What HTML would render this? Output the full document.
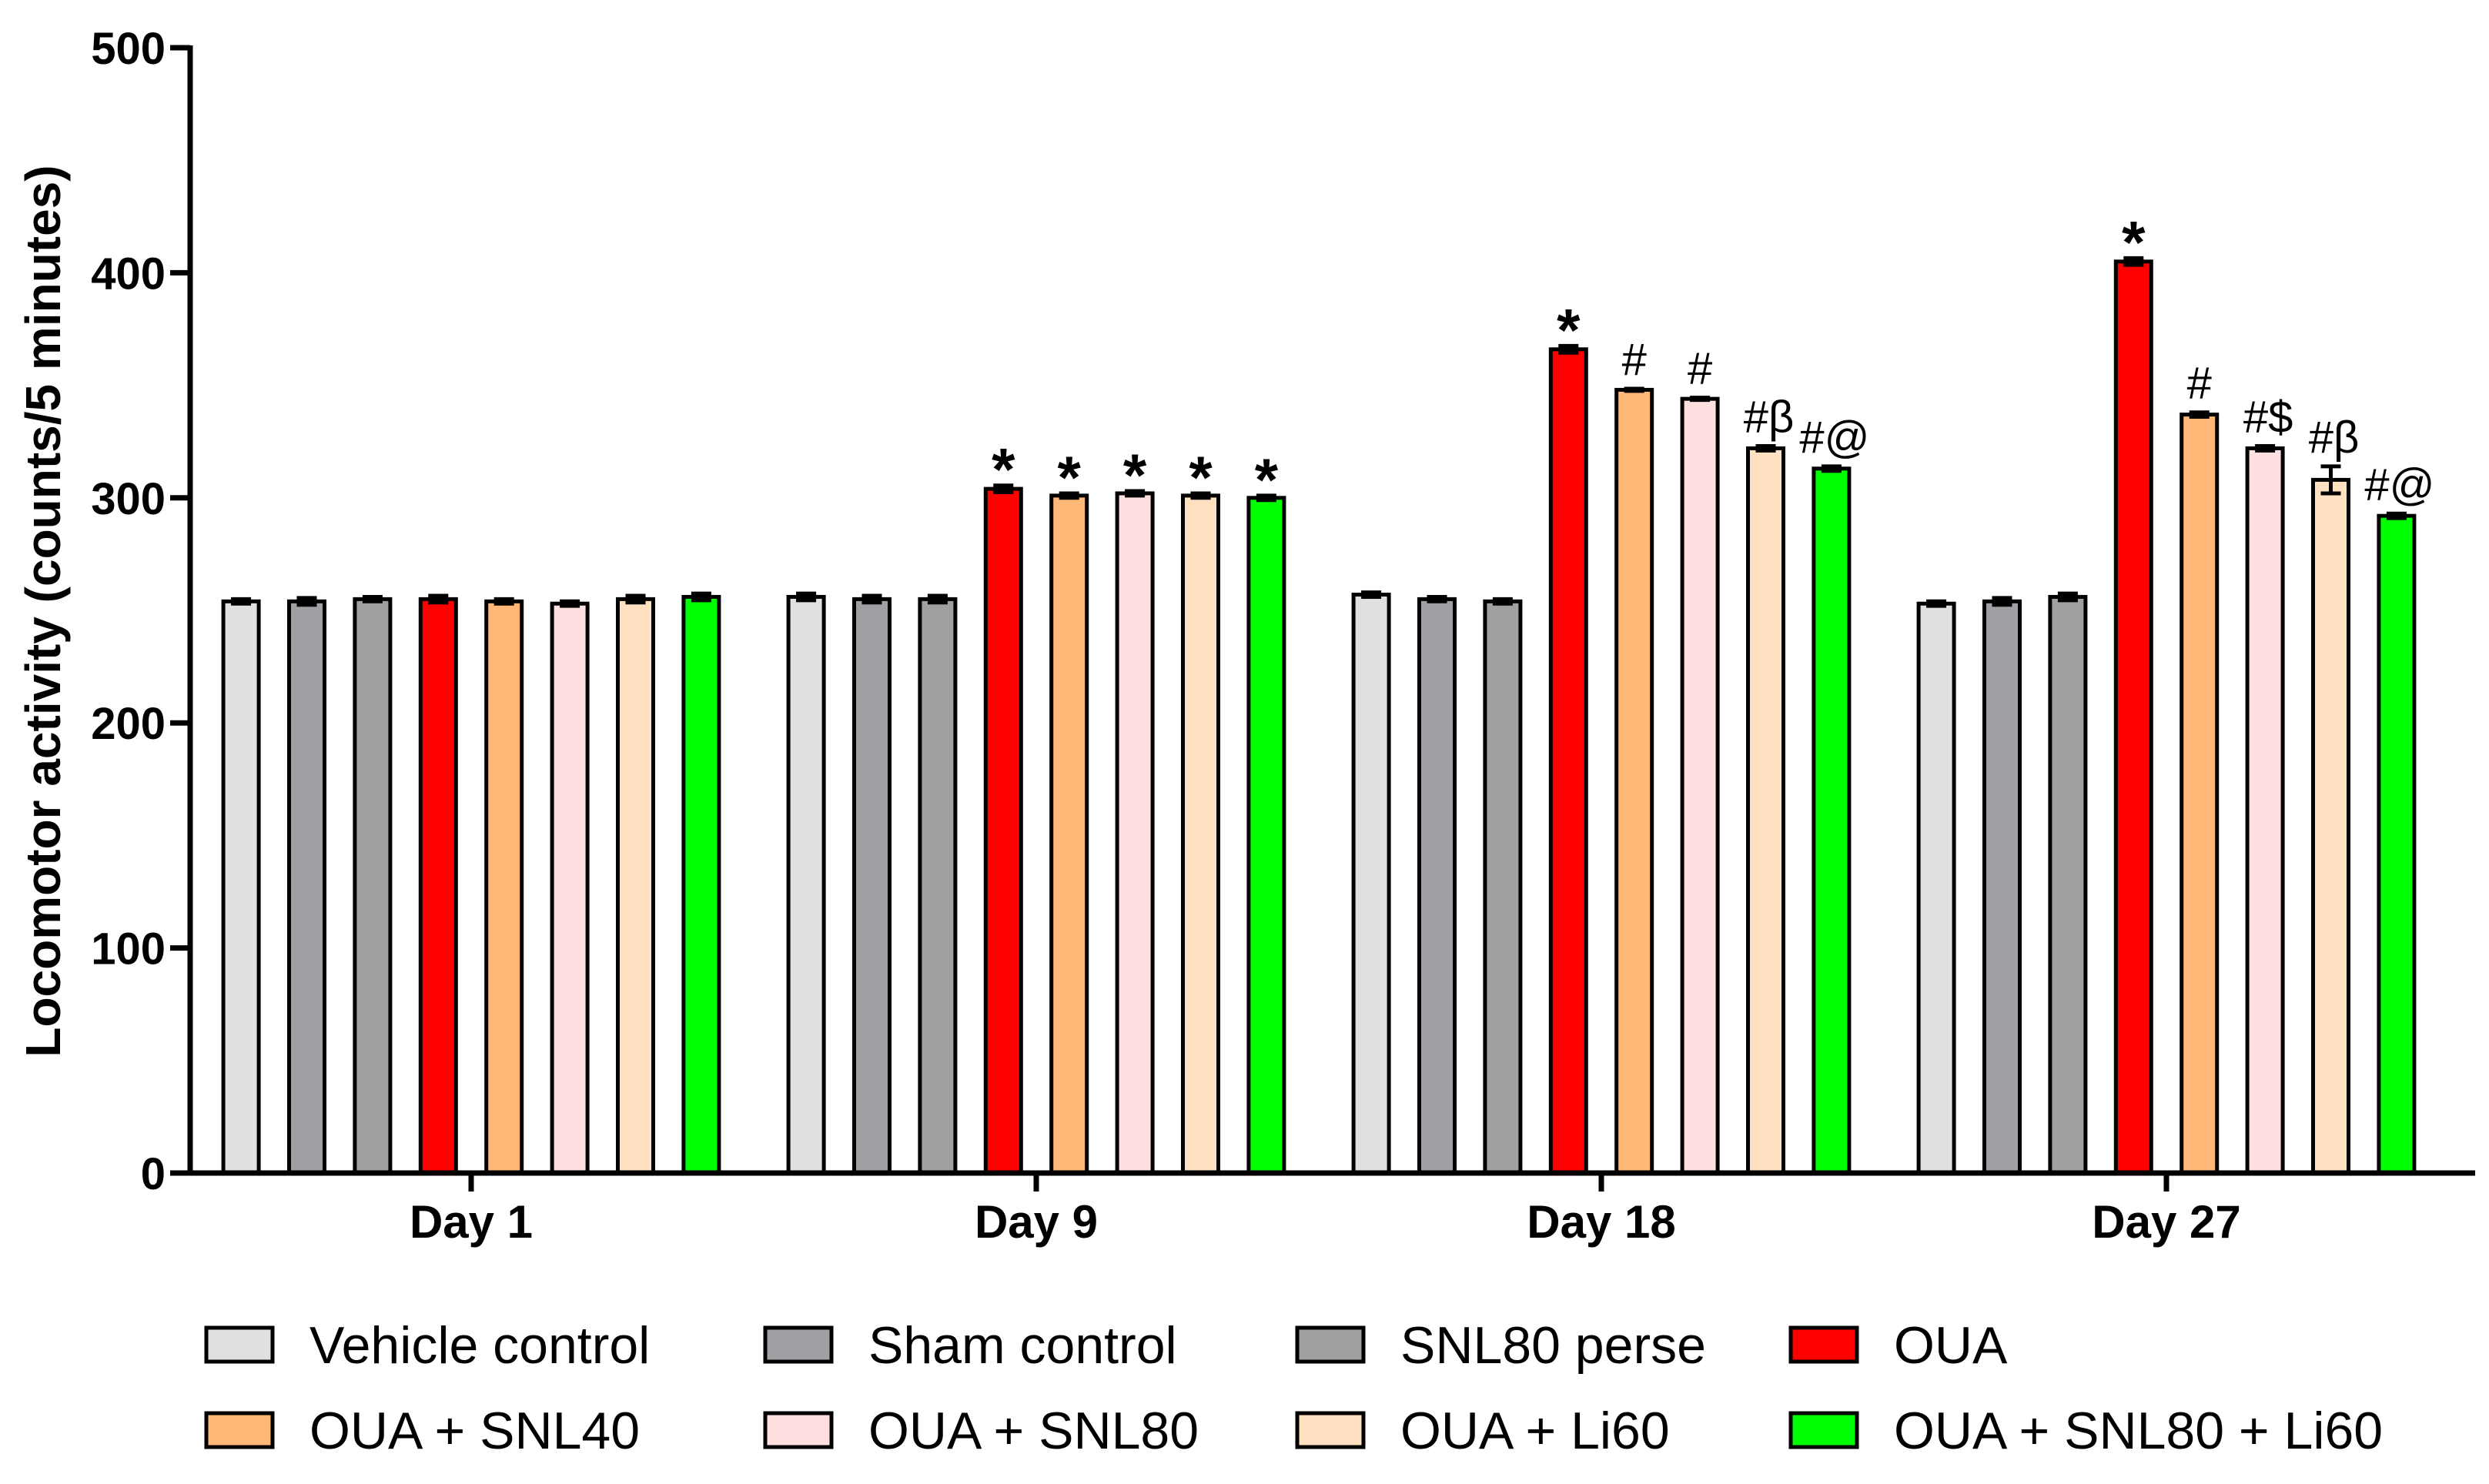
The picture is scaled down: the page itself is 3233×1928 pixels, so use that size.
<!DOCTYPE html>
<html><head><meta charset="utf-8"><style>
html,body{margin:0;padding:0;background:#fff}
svg{display:block;font-family:"Liberation Sans",Arial,sans-serif}
</style></head><body>
<svg id="chart" width="3233" height="1928" viewBox="0 0 3233 1928" xmlns="http://www.w3.org/2000/svg">
<text transform="translate(78,794) rotate(-90)" text-anchor="middle" font-size="64" font-weight="bold">Locomotor activity (counts/5 minutes)</text>
<g id="plot"></g>
<g id="legend"></g>
</svg>
<script>
const days = ["Day 1","Day 9","Day 18","Day 27"];
const groups = ["Vehicle control","Sham control","SNL80 perse","OUA","OUA + SNL40","OUA + SNL80","OUA + Li60","OUA + SNL80 + Li60"];
const colors = ["#e0e0e0","#a0a0a4","#a0a0a0","#ff0000","#ffb878","#ffe0e0","#ffe0c0","#00ff00"];
const day1 = [254,254,255,255,254,253,255,256];
const day9 = [256,255,255,304,301,302,301,300];
const day18 = [257,255,254,366,348,344,322,313];
const day27 = [253,254,256,405,337,322,308,292];
const errs1 = [1,1.5,1,1.5,1,1,1.5,1.5];
const errs9 = [1.5,1.5,1.5,1.5,1,1,1,1];
const errs18 = [1,1,1,1.5,0.5,0.5,1,1];
const errs27 = [1,1.5,1.5,1.5,1,1,6,1];
const ann1 = ["","","","","","","",""];
const ann9 = ["","","","*","*","*","*","*"];
const ann18 = ["","","","*","#","#","#β","#@"];
const ann27 = ["","","","*","#","#$","#β","#@"];
const yTicks = [0,100,200,300,400,500];

const series = [day1,day9,day18,day27];
const errs = [errs1,errs9,errs18,errs27];
const anns = [ann1,ann9,ann18,ann27];
const NS="http://www.w3.org/2000/svg";
const plot=document.getElementById('plot');
const Y0=1524, YT=62, AX=247;
function y(v){return Y0-(v/500)*(Y0-YT);}
function gx(i){return 612+i*734;}
function bx(i,j){return gx(i)+(j-3.5)*85.4;}
function mk(tag,attrs,parent){const e=document.createElementNS(NS,tag);for(const k in attrs)e.setAttribute(k,attrs[k]);(parent||plot).appendChild(e);return e;}

series.forEach((vals,i)=>{
  vals.forEach((v,j)=>{
    const cx=bx(i,j);
    const r=mk('rect',{x:cx-23,y:y(v),width:46,height:Y0-y(v),fill:colors[j],stroke:'#000','stroke-width':5});
    
    
    const e=errs[i][j];
    const eb=mk('path',{d:`M${cx},${y(v+e)}V${y(v-e)}M${cx-13},${y(v+e)}H${cx+13}M${cx-13},${y(v-e)}H${cx+13}`,stroke:'#000','stroke-width':5,fill:'none'});
    
    
    const a=anns[i][j];
    if(a){
      const t=mk('text',{x:cx+(a.length>1?4:0),y:y(v+e)-(a==='*'?-6:18),'text-anchor':'middle','font-size':a==='*'?78:58,'font-weight':a==='*'?'bold':'normal'});
      t.textContent=a;
      
      
    }
  });
  const tk=mk('line',{x1:gx(i),x2:gx(i),y1:Y0,y2:Y0+24,stroke:'#000','stroke-width':7});
  
  
  const tl=mk('text',{x:gx(i),y:1608,'text-anchor':'middle','font-size':60,'font-weight':'bold'});
  tl.textContent=days[i];
  
  
});
const yax=mk('line',{x1:AX,x2:AX,y1:YT-3,y2:Y0+3,stroke:'#000','stroke-width':7});


const xax=mk('line',{x1:222,x2:3215,y1:Y0,y2:Y0,stroke:'#000','stroke-width':7});


yTicks.forEach(v=>{
  const t=mk('line',{x1:AX-26,x2:AX,y1:y(v),y2:y(v),stroke:'#000','stroke-width':7});
  
  
  const l=mk('text',{x:AX-32,y:y(v)+21,'text-anchor':'end','font-size':58,'font-weight':'bold'});
  l.textContent=v;
  
  
});
const leg=document.getElementById('legend');
const colX=[268,994,1685,2326];
const rowY=[1747,1858];
groups.forEach((g,k)=>{
  const c=k%4, r=Math.floor(k/4);
  const gg=mk('g',{},leg);
  
  
  mk('rect',{x:colX[c],y:rowY[r]-22,width:86,height:44,fill:colors[k],stroke:'#000','stroke-width':5},gg);
  const t=mk('text',{x:colX[c]+134,y:rowY[r]+24,'font-size':68},gg);
  t.textContent=g;
});
</script>
</body></html>
